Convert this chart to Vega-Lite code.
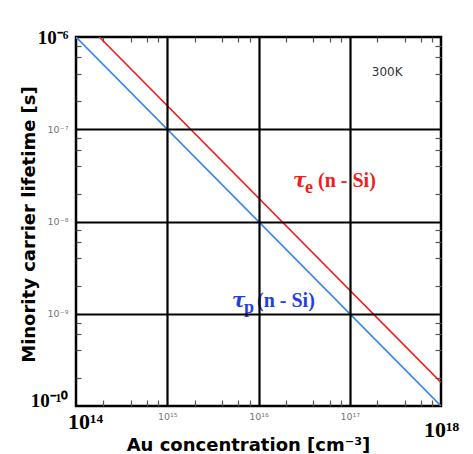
{
  "$schema": "https://vega.github.io/schema/vega-lite/v6.json",
  "width": 365,
  "height": 369,
  "autosize": {"type": "none"},
  "padding": {"left": 76, "top": 37, "right": 32, "bottom": 48},
  "background": "white",
  "config": {"view": {"stroke": "black", "strokeWidth": 2.5}},
  "datasets": {
    "lines": [
      {"series": "e", "N": 1.8e14, "tau": 1e-6},
      {"series": "e", "N": 1e18, "tau": 1.8e-10},
      {"series": "p", "N": 1e14, "tau": 1e-6},
      {"series": "p", "N": 1e18, "tau": 1e-10}
    ],
    "annot": [
      {"series": "e", "N": 2.39e16, "tau": 2.37e-8},
      {"series": "p", "N": 5.13e15, "tau": 1.18e-9}
    ],
    "note": [{"label": "300K", "N": 2.57e17, "tau": 4.17e-7}]
  },
  "resolve": {"axis": {"x": "independent", "y": "independent"}, "scale": {"color": "independent"}},
  "layer": [
    {
      "data": {"name": "lines"},
      "mark": {"type": "line", "strokeWidth": 1.6, "clip": true},
      "encoding": {
        "x": {
          "field": "N", "type": "quantitative",
          "scale": {"type": "log", "domain": [1e14, 1e18], "nice": false},
          "axis": {
            "orient": "bottom",
            "zindex": 1,
            "values": [1e14,2e14,4e14,6e14,8e14,1e15,2e15,4e15,6e15,8e15,1e16,2e16,4e16,6e16,8e16,1e17,2e17,4e17,6e17,8e17,1e18],
            "labelExpr": "datum.value==1e14?'10¹⁴':datum.value==1e15?'10¹⁵':datum.value==1e16?'10¹⁶':datum.value==1e17?'10¹⁷':datum.value==1e18?'10¹⁸':''",
            "labelOverlap": false,
            "labelBound": false,
            "labelFlush": false,
            "labelFont": {"condition": {"test": "datum.value==1e14||datum.value==1e18", "value": "Liberation Serif"}, "value": "DejaVu Sans"},
            "labelFontSize": {"condition": {"test": "datum.value==1e14||datum.value==1e18", "value": 22}, "value": 9.5},
            "labelFontWeight": {"condition": {"test": "datum.value==1e14||datum.value==1e18", "value": "bold"}, "value": "normal"},
            "labelColor": {"condition": {"test": "datum.value==1e14||datum.value==1e18", "value": "black"}, "value": "#777777"},
            "labelPadding": {"condition": {"test": "datum.value==1e18", "value": 13}, "value": 5},
            "labelOffset": {"condition": {"test": "datum.value==1e14", "value": 9}, "value": 0},
            "domain": false,
            "grid": true,
            "gridColor": {"condition": {"test": "datum.value==1e15||datum.value==1e16||datum.value==1e17", "value": "black"}, "value": "#555555"},
            "gridWidth": {"condition": {"test": "datum.value==1e15||datum.value==1e16||datum.value==1e17", "value": 2.2}, "value": 1.2},
            "gridDash": {"condition": {"test": "datum.value==1e15||datum.value==1e16||datum.value==1e17", "value": []}, "value": [5, 400]},
            "gridOpacity": {"condition": {"test": "datum.value==1e14||datum.value==1e18", "value": 0}, "value": 1},
            "ticks": false,
            "title": "Au concentration  [cm⁻³]",
            "titleFont": "DejaVu Sans",
            "titleFontWeight": "bold",
            "titleFontSize": 18,
            "titleColor": "black",
            "titleBaseline": "alphabetic",
            "titleY": 44,
            "titleX": 172
          }
        },
        "y": {
          "field": "tau", "type": "quantitative",
          "scale": {"type": "log", "domain": [1e-10, 1e-6], "nice": false},
          "axis": {
            "orient": "left",
            "zindex": 1,
            "values": [1e-10,2e-10,4e-10,6e-10,8e-10,1e-9,2e-9,4e-9,6e-9,8e-9,1e-8,2e-8,4e-8,6e-8,8e-8,1e-7,2e-7,4e-7,6e-7,8e-7,1e-6],
            "labelExpr": "datum.value==1e-10?'10⁻¹⁰':datum.value==1e-9?'10⁻⁹':datum.value==1e-8?'10⁻⁸':datum.value==1e-7?'10⁻⁷':datum.value==1e-6?'10⁻⁶':''",
            "labelOverlap": false,
            "labelBound": false,
            "labelFlush": false,
            "labelFont": {"condition": {"test": "datum.value==1e-10||datum.value==1e-6", "value": "Liberation Serif"}, "value": "DejaVu Sans"},
            "labelFontSize": {"condition": {"test": "datum.value==1e-10||datum.value==1e-6", "value": 19}, "value": 9.5},
            "labelFontWeight": {"condition": {"test": "datum.value==1e-10||datum.value==1e-6", "value": "bold"}, "value": "normal"},
            "labelColor": {"condition": {"test": "datum.value==1e-10||datum.value==1e-6", "value": "black"}, "value": "#777777"},
            "labelPadding": 8,
            "labelOffset": {"condition": {"test": "datum.value==1e-10", "value": -6}, "value": 0},
            "domain": false,
            "grid": true,
            "gridColor": {"condition": {"test": "datum.value==1e-9||datum.value==1e-8||datum.value==1e-7", "value": "black"}, "value": "#555555"},
            "gridWidth": {"condition": {"test": "datum.value==1e-9||datum.value==1e-8||datum.value==1e-7", "value": 2.2}, "value": 1.2},
            "gridDash": {"condition": {"test": "datum.value==1e-9||datum.value==1e-8||datum.value==1e-7", "value": []}, "value": [5, 400]},
            "gridOpacity": {"condition": {"test": "datum.value==1e-10||datum.value==1e-6", "value": 0}, "value": 1},
            "ticks": false,
            "title": "Minority carrier lifetime  [s]",
            "titleFont": "DejaVu Sans",
            "titleFontWeight": "bold",
            "titleFontSize": 18,
            "titleColor": "black",
            "titleAngle": -90,
            "titleBaseline": "alphabetic",
            "titleX": -42,
            "titleY": 187
          }
        },
        "color": {
          "field": "series", "type": "nominal",
          "scale": {"domain": ["e", "p"], "range": ["#f21c1c", "#3b86f0"]},
          "legend": null
        },
        "detail": {"field": "series"}
      }
    },
    {
      "data": {"name": "note"},
      "mark": {"type": "text", "font": "DejaVu Sans", "fontSize": 12, "color": "#333333", "align": "center", "baseline": "middle"},
      "encoding": {
        "x": {
          "field": "N", "type": "quantitative",
          "scale": {"type": "log", "domain": [1e14, 1e18], "nice": false},
          "axis": {
            "orient": "top",
            "zindex": 2,
            "values": [2e14,4e14,6e14,8e14,2e15,4e15,6e15,8e15,2e16,4e16,6e16,8e16,2e17,4e17,6e17,8e17],
            "labels": false, "domain": false, "grid": true, "ticks": false,
            "gridColor": "#555555", "gridWidth": 1.2, "gridDash": [6, 400], "title": null
          }
        },
        "y": {
          "field": "tau", "type": "quantitative",
          "scale": {"type": "log", "domain": [1e-10, 1e-6], "nice": false},
          "axis": {
            "orient": "right",
            "zindex": 2,
            "values": [2e-10,4e-10,6e-10,8e-10,2e-9,4e-9,6e-9,8e-9,2e-8,4e-8,6e-8,8e-8,2e-7,4e-7,6e-7,8e-7],
            "labels": false, "domain": false, "grid": true, "ticks": false,
            "gridColor": "#555555", "gridWidth": 1.2, "gridDash": [6, 400], "title": null
          }
        },
        "text": {"field": "label"}
      }
    },
    {
      "data": {"name": "annot"},
      "mark": {"type": "text", "font": "DejaVu Serif", "fontStyle": "italic", "fontWeight": "bold", "fontSize": 20, "align": "left", "baseline": "alphabetic", "text": "τ"},
      "encoding": {
        "x": {"field": "N", "type": "quantitative", "scale": {"type": "log", "domain": [1e14, 1e18], "nice": false}, "axis": null},
        "y": {"field": "tau", "type": "quantitative", "scale": {"type": "log", "domain": [1e-10, 1e-6], "nice": false}, "axis": null},
        "color": {"field": "series", "type": "nominal", "scale": {"domain": ["e", "p"], "range": ["#f21c1c", "#1f3fe6"]}, "legend": null}
      }
    },
    {
      "data": {"name": "annot"},
      "mark": {"type": "text", "font": "Liberation Serif", "fontWeight": "bold", "fontSize": 18, "align": "left", "baseline": "alphabetic", "dx": 12, "dy": 6},
      "encoding": {
        "x": {"field": "N", "type": "quantitative", "scale": {"type": "log", "domain": [1e14, 1e18], "nice": false}, "axis": null},
        "y": {"field": "tau", "type": "quantitative", "scale": {"type": "log", "domain": [1e-10, 1e-6], "nice": false}, "axis": null},
        "text": {"field": "series"},
        "color": {"field": "series", "type": "nominal", "scale": {"domain": ["e", "p"], "range": ["#f21c1c", "#1f3fe6"]}, "legend": null}
      }
    },
    {
      "data": {"name": "annot"},
      "mark": {"type": "text", "font": "Liberation Serif", "fontWeight": "bold", "fontSize": 20, "align": "left", "baseline": "alphabetic", "dx": 25, "text": "(n - Si)"},
      "encoding": {
        "x": {"field": "N", "type": "quantitative", "scale": {"type": "log", "domain": [1e14, 1e18], "nice": false}, "axis": null},
        "y": {"field": "tau", "type": "quantitative", "scale": {"type": "log", "domain": [1e-10, 1e-6], "nice": false}, "axis": null},
        "color": {"field": "series", "type": "nominal", "scale": {"domain": ["e", "p"], "range": ["#f21c1c", "#1f3fe6"]}, "legend": null}
      }
    }
  ]
}
